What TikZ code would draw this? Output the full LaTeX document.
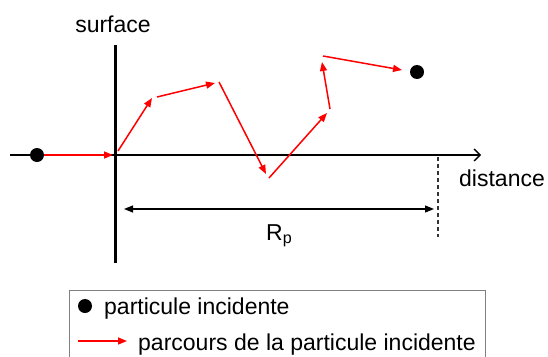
\documentclass[tikz,border=0pt]{standalone}
\usepackage{fontspec}
\setmainfont{Liberation Sans}
\usetikzlibrary{positioning,arrows.meta}
\tikzset{
  dot/.style={circle,fill=black,inner sep=0pt,minimum size=14pt},
  redarr/.style={-{Triangle[length=9pt,width=7pt]},red,line width=1.5pt,shorten <=0pt},
  lbl/.style={font=\fontsize{23}{27}\selectfont,inner sep=0pt},
  axis/.style={-{Straight Barb[length=6pt,width=12pt]},line width=1.4pt},
}

\begin{document}
\begin{tikzpicture}[x=1pt,y=-1pt]
\useasboundingbox (0,0) rectangle (548,356);
% axes
\coordinate (xa) at (10,155);
\coordinate (xb) at (481,155);
\coordinate (sa) at (115,45);
\coordinate (sb) at (115,263);
\draw[axis] (xa) -- (xb);
\draw[line width=3pt] (sa) -- (sb);
\node[lbl, anchor=base] (surf) at (113,32) {surface};
\node[lbl, anchor=base west] (dist) at (459,186) {distance};
% particle path
\node[dot] (start) at (37,155) {};
\node[dot] (stop) at (417,72) {};
\coordinate (hit) at (113,155);
\coordinate (a1) at (118,151); \coordinate (b1) at (152,98);
\coordinate (a2) at (157,97);  \coordinate (b2) at (215,83);
\coordinate (a3) at (219,82);  \coordinate (b3) at (266,174);
\coordinate (a4) at (269,178); \coordinate (b4) at (327,113);
\coordinate (a5) at (330,109); \coordinate (b5) at (322,62);
\coordinate (a6) at (323,56);  \coordinate (b6) at (402,70);
\draw[redarr] (start) -- (hit);
\draw[redarr] (a1) -- (b1);
\draw[redarr] (a2) -- (b2);
\draw[redarr] (a3) -- (b3);
\draw[redarr] (a4) -- (b4);
\draw[redarr] (a5) -- (b5);
\draw[redarr] (a6) -- (b6);
% range
\coordinate (da) at (438,157);
\coordinate (db) at (438,237);
\draw[line width=1.2pt, dash pattern=on 4pt off 3pt, black!80] (da) -- (db);
\coordinate (ra) at (124,209);
\coordinate (rb) at (434,209);
\draw[{Triangle[length=9pt,width=7pt]}-{Triangle[length=9pt,width=7pt]}, line width=1.2pt] (ra) -- (rb);
\node[lbl, anchor=base west] (rp) at (266,240) {R\textsubscript{p}};
% legend
\draw[gray, line width=1pt] (69,290) rectangle (485,362);
\node[dot] (ldot) at (85,306) {};
\node[lbl, anchor=base west] (l1) at (104,314) {particule incidente};
\coordinate (la) at (78,341);
\coordinate (lb) at (127,341);
\draw[redarr] (la) -- (lb);
\node[lbl, anchor=base west] (l2) at (138,350) {parcours de la particule incidente};
\end{tikzpicture}
\end{document}
